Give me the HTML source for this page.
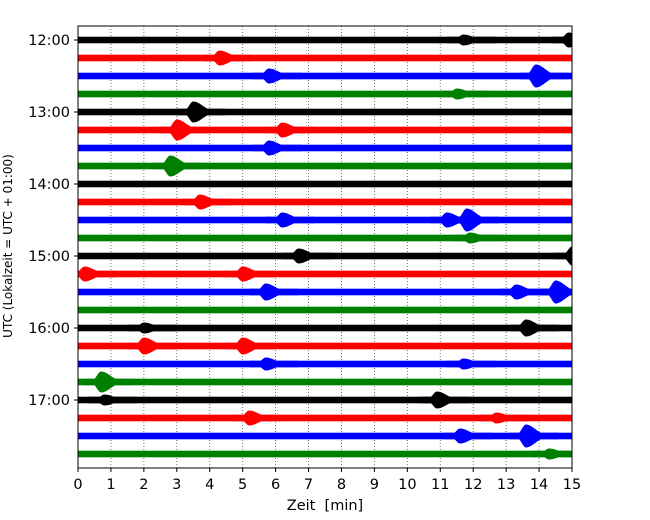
<!DOCTYPE html>
<html><head><meta charset="utf-8"><style>
body{margin:0;background:#fff;}
svg{display:block;font-family:"DejaVu Sans","Liberation Sans",sans-serif;}
</style></head><body>
<svg id="c" width="650" height="520" viewBox="0 0 650 520"></svg>
<script>
const hourLabels=["12:00","13:00","14:00","15:00","16:00","17:00"];
const xTicks=[0,1,2,3,4,5,6,7,8,9,10,11,12,13,14,15];
const traceColors=["black","red","blue","green"];
const traceCount=24;
// events per trace: [minute, amplitude(px half-height)]
const traceEvents=[
 [[11.7,4],[14.9,6]],
 [[4.3,6]],
 [[5.8,6],[13.9,10]],
 [[11.5,4]],
 [[3.5,9]],
 [[3.0,9],[6.2,6]],
 [[5.8,6]],
 [[2.8,9]],
 [],
 [[3.7,6]],
 [[6.2,6],[11.2,6],[11.8,10]],
 [[11.9,4]],
 [[6.7,6],[15.0,8]],
 [[0.2,6],[5.0,6]],
 [[5.7,7],[13.3,6],[14.5,10]],
 [],
 [[2.0,4],[13.6,7]],
 [[2.0,7],[5.0,7]],
 [[5.7,5],[11.7,4]],
 [[0.7,9]],
 [[0.8,4],[10.9,7]],
 [[5.2,6],[12.7,4]],
 [[11.6,6],[13.6,10]],
 [[14.3,4]]
];
const L=78,R=572,T=26,B=468,Y0=40,DY=18;
const x=m=>L+(R-L)*m/15;
const y=i=>Y0+i*DY;
const svg=document.getElementById('c');
const NS="http://www.w3.org/2000/svg";
function mk(tag,attrs,parent){const e=document.createElementNS(NS,tag);for(const k in attrs)e.setAttribute(k,attrs[k]);(parent||svg).appendChild(e);return e;}
xTicks.forEach(t=>{if(t>0&&t<15){const g=mk('line',{x1:x(t),x2:x(t),y1:T,y2:B,stroke:'#555','stroke-width':0.8,'stroke-dasharray':'1,2'});

}});
function env(u){
 if(u<0) return Math.exp(-Math.pow(u/0.18,2));
 return Math.exp(-Math.pow(u/0.4,2));
}
for(let i=0;i<traceCount;i++){
 const col=traceColors[i%4];
 const g=mk('g',{fill:col});
 
 
 mk('rect',{x:L,y:y(i)-3.3,width:R-L,height:6.6},g);
 traceEvents[i].forEach(ev=>{
  const t=ev[0],a=ev[1]+1.5;
  const top=[],bot=[];
  for(let u=-0.5;u<=1.0;u+=0.02){
   const m=t+u; if(m<0||m>15) continue;
   const h=Math.max(3.3,a*env(u));
   top.push(x(m).toFixed(1)+','+(y(i)-h).toFixed(1));
   bot.unshift(x(m).toFixed(1)+','+(y(i)+h).toFixed(1));
  }
  if(top.length<2) return;
  const p=mk('polygon',{points:top.concat(bot).join(' ')},g);
  
  
 });
}
const f=mk('rect',{x:L,y:T,width:R-L,height:B-T,fill:'none',stroke:'#000','stroke-width':1});


xTicks.forEach(t=>{
 mk('line',{x1:x(t),x2:x(t),y1:B,y2:B+4,stroke:'#000'});
 const tx=mk('text',{x:x(t),y:B+21,'text-anchor':'middle','font-size':14.5});
 tx.textContent=t;
 
 
});
hourLabels.forEach((h,k)=>{
 const yy=y(k*4);
 mk('line',{x1:L-4,x2:L,y1:yy,y2:yy,stroke:'#000'});
 const tx=mk('text',{x:L-8,y:yy+5,'text-anchor':'end','font-size':14.5});
 tx.textContent=h;
 
 
});
const xl=mk('text',{x:325,y:510,'text-anchor':'middle','font-size':14.5});
xl.setAttribute('xml:space','preserve');
xl.textContent='Zeit\u00a0\u00a0[min]';


const yl=mk('text',{x:0,y:0,'text-anchor':'middle','font-size':12,transform:'translate(12,246) rotate(-90)'});
yl.textContent='UTC (Lokalzeit = UTC + 01:00)';


</script>
</body></html>
